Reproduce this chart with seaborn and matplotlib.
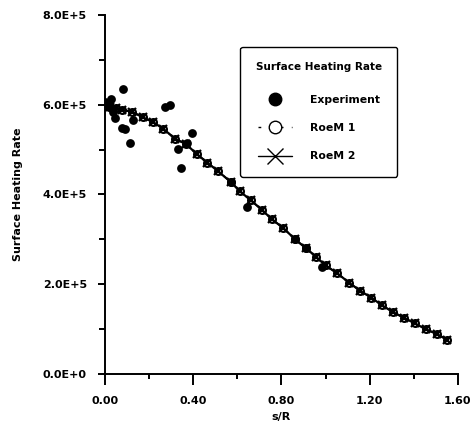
#!/usr/bin/env python3

import pandas as pd
import matplotlib.pyplot as plt
import seaborn as sns
from matplotlib.lines import Line2D
from matplotlib.ticker import MultipleLocator, FuncFormatter

# experiment points (s/R, heating rate)
exp_s = [0.0, 0.02, 0.027, 0.038, 0.045, 0.076, 0.083, 0.09, 0.113, 0.125,
         0.272, 0.295, 0.33, 0.345, 0.37, 0.395, 0.57, 0.643, 0.86, 0.91, 0.985]
exp_q = [6.06e5, 5.95e5, 6.12e5, 5.84e5, 5.70e5, 5.48e5, 6.34e5, 5.45e5, 5.15e5, 5.65e5,
         5.95e5, 6.00e5, 5.02e5, 4.58e5, 5.14e5, 5.36e5, 4.28e5, 3.72e5, 3.00e5, 2.80e5, 2.39e5]

# computed solutions (RoeM 1 and RoeM 2 lie on top of each other)
sim_s = [0.0, 0.025, 0.05, 0.076, 0.124, 0.171, 0.219, 0.265, 0.318, 0.368,
         0.416, 0.464, 0.512, 0.570, 0.612, 0.661, 0.711, 0.756, 0.809, 0.862,
         0.912, 0.957, 1.0, 1.054, 1.108, 1.158, 1.208, 1.256, 1.306, 1.356,
         1.404, 1.454, 1.505, 1.552]
roem1_q = [5.98e5, 5.95e5, 5.92e5, 5.89e5, 5.84e5, 5.72e5, 5.61e5, 5.46e5, 5.24e5, 5.12e5,
           4.90e5, 4.71e5, 4.52e5, 4.28e5, 4.07e5, 3.87e5, 3.66e5, 3.45e5, 3.25e5, 3.00e5,
           2.80e5, 2.61e5, 2.42e5, 2.24e5, 2.03e5, 1.85e5, 1.70e5, 1.53e5, 1.38e5, 1.25e5,
           1.13e5, 1.00e5, 0.89e5, 0.76e5]
roem2_q = [5.98e5, 5.95e5, 5.92e5, 5.89e5, 5.84e5, 5.72e5, 5.61e5, 5.46e5, 5.24e5, 5.12e5,
           4.90e5, 4.71e5, 4.52e5, 4.28e5, 4.07e5, 3.87e5, 3.66e5, 3.45e5, 3.25e5, 3.00e5,
           2.80e5, 2.61e5, 2.42e5, 2.24e5, 2.03e5, 1.85e5, 1.70e5, 1.53e5, 1.38e5, 1.25e5,
           1.13e5, 1.00e5, 0.89e5, 0.76e5]


def sci(v, pos):
    if v == 0:
        return "0.0E+0"
    return "%.1fE+5" % (v / 1e5)


def main():
    sns.set_style("ticks")
    plt.rcParams["font.family"] = ["DejaVu Sans"]
    plt.rcParams["font.weight"] = "bold"
    for key in ("text.color", "axes.labelcolor", "xtick.color", "ytick.color", "axes.edgecolor"):
        plt.rcParams[key] = "black"

    exp = pd.DataFrame({"s": exp_s, "q": exp_q})
    sim = pd.DataFrame({"s": sim_s, "q1": roem1_q, "q2": roem2_q})

    fig = plt.figure(figsize=(4.75, 4.26), dpi=100)
    ax = fig.add_axes([0.221, 0.122, 0.743, 0.843])

    sns.lineplot(x="s", y="q1", data=sim, ax=ax, color="black", lw=1.2,
                 linestyle=(0, (4, 2)), marker="o", markersize=5, markeredgewidth=1.5,
                 markerfacecolor="white", markeredgecolor="black")
    sns.lineplot(x="s", y="q2", data=sim, ax=ax, color="black", lw=1.6,
                 marker="x", markersize=6, markeredgewidth=1.6, markeredgecolor="black")
    sns.scatterplot(x="s", y="q", data=exp, ax=ax, color="black", s=40,
                    edgecolor="black", linewidth=0, zorder=3)

    ax.set_xlim(0, 1.6)
    ax.set_ylim(0, 8e5)
    ax.xaxis.set_major_locator(MultipleLocator(0.4))
    ax.xaxis.set_minor_locator(MultipleLocator(0.2))
    ax.yaxis.set_major_locator(MultipleLocator(2e5))
    ax.yaxis.set_minor_locator(MultipleLocator(1e5))
    ax.xaxis.set_major_formatter(FuncFormatter(lambda v, p: "%.2f" % v))
    ax.yaxis.set_major_formatter(FuncFormatter(sci))

    sns.despine(ax=ax)
    for sp in ("left", "bottom"):
        ax.spines[sp].set_linewidth(1.4)
    ax.tick_params(axis="x", which="major", length=8, width=1.4, pad=8, labelsize=8)
    ax.tick_params(axis="x", which="minor", length=3.6, width=1.4)
    ax.tick_params(axis="y", which="major", length=5, width=1.4, pad=8, labelsize=8)
    ax.tick_params(axis="y", which="minor", length=4.3, width=1.4)
    for lab in ax.get_xticklabels() + ax.get_yticklabels():
        lab.set_fontweight("bold")

    ax.set_xlabel("s/R", fontsize=8, fontweight="bold", labelpad=4)
    ax.set_ylabel("Surface Heating Rate", fontsize=8, fontweight="bold", labelpad=14)

    handles = [
        Line2D([], [], color="black", marker="o", markersize=9, linestyle="none"),
        Line2D([], [], color="black", marker="o", markersize=9, markerfacecolor="white",
               linestyle=(0, (2, 6)), lw=1.0),
        Line2D([], [], color="black", marker="x", markersize=11, markeredgewidth=1.0, lw=1.0),
    ]
    leg = ax.legend(handles, ["Experiment", "RoeM 1", "RoeM 2"],
                    title="Surface Heating Rate", loc="upper left",
                    bbox_to_anchor=(0.384, 0.91), fontsize=7.8, title_fontsize=7.5,
                    frameon=True, fancybox=True, edgecolor="black", framealpha=1,
                    handlelength=3.2, handletextpad=1.6, labelspacing=1.7,
                    borderpad=1.4, borderaxespad=0)
    leg.get_title().set_fontweight("bold")
    leg._legend_box.sep = 16
    leg.get_frame().set_linewidth(1.0)

    plt.savefig("out.png", dpi=100)


if __name__ == "__main__":
    main()
